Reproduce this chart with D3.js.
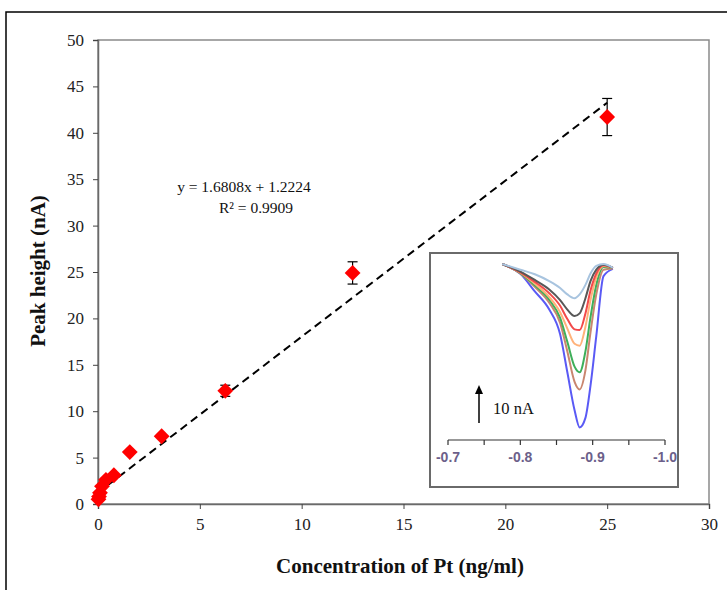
<!DOCTYPE html>
<html><head><meta charset="utf-8">
<script src="https://cdn.jsdelivr.net/npm/d3@7"></script>
<style>html,body{margin:0;padding:0;background:#fff;}svg{display:block;}</style>
</head><body>
<script>
// ---- main calibration data ----
const concentration = [0.024, 0.049, 0.098, 0.195, 0.39, 0.78, 1.56, 3.125, 6.25, 12.5, 25];
const peakHeight    = [0.5,   0.8,   1.2,   1.9,   2.6,  3.1,  5.6,  7.3,   12.2, 24.9, 41.7];
const errorBar      = [0,     0,     0,     0,     0,    0,    0,    0,     0.6,  1.2,  2.0];
const xTicks = [0, 5, 10, 15, 20, 25, 30];
const yTicks = [0, 5, 10, 15, 20, 25, 30, 35, 40, 45, 50];
const slope = 1.6808, intercept = 1.2224, fitRange = [0, 25];
const eqText = "y = 1.6808x + 1.2224";
const r2Text = "R\u00b2 = 0.9909";

// ---- inset voltammograms ----
const potential = [-0.775, -0.80, -0.82, -0.84, -0.855, -0.865, -0.875, -0.882, -0.89, -0.897, -0.905, -0.915, -0.928];
const curveBlue      = [0, -2.6, -7.2, -12, -18.5, -28.5, -38.5, -43, -40.5, -32, -19, -3.2, -1.3];
const curveBrown     = [0, -2.5, -6, -10.2, -15.5, -23, -31, -33, -28, -18, -8, -1.5, -1.2];
const curveGreen     = [0, -2.4, -5.6, -9.4, -14.2, -20.5, -27, -28.5, -23, -14, -5.5, -0.8, -1];
const curveOrange    = [0, -2.3, -5.2, -8.7, -12.7, -17, -21, -21.5, -16.5, -9.5, -3.5, -0.5, -1];
const curveRed       = [0, -2.2, -4.7, -7.7, -11, -14.5, -17.2, -17.4, -13, -7, -2.5, -0.3, -1];
const curveGray      = [0, -2, -4.2, -6.7, -9.5, -12, -13.7, -13, -9, -4.5, -1.5, -0.2, -1];
const curveLightBlue = [0, -1.5, -2.7, -4.5, -6.3, -8, -9, -8, -5.5, -2.5, -0.5, 0, -1];
const insetTicks = [-0.7, -0.75, -0.8, -0.85, -0.9, -0.95, -1.0];
const insetLabels = [-0.7, -0.8, -0.9, -1.0];
const scaleBarNA = 10;

const W = 727, H = 590;
const svg = d3.select("body").append("svg").attr("width", W).attr("height", H);
const serif = "'Liberation Serif','Times New Roman',serif";

// outer frame
svg.append("path").attr("d", `M6,${H+5} L6,12 L${W+5},12`).attr("fill","none").attr("stroke","#000").attr("stroke-width",1.5);

const L = 98, R = 709, T = 40, B = 504;
const x = d3.scaleLinear().domain([0, 30]).range([L, R]);
const y = d3.scaleLinear().domain([0, 50]).range([B, T]);

// plot box
svg.append("rect").attr("x", L).attr("y", T).attr("width", R-L).attr("height", B-T)
  .attr("fill","none").attr("stroke","#8a8a8a").attr("stroke-width",1.5);

// axes
const yAxis = d3.axisLeft(y).tickValues(yTicks).tickSize(5).tickPadding(9);
const gy = svg.append("g").attr("transform", `translate(${L},0)`).call(yAxis);
const xAxis = d3.axisBottom(x).tickValues(xTicks).tickSize(5).tickPadding(9);
const gx = svg.append("g").attr("transform", `translate(0,${B})`).call(xAxis);
[gx, gy].forEach(g => {
  g.select(".domain").attr("stroke","#6a6a6a").attr("stroke-width",1.5);
  g.selectAll(".tick line").attr("stroke","#444");
  g.selectAll("text").attr("font-family", serif).attr("font-size", 17).attr("fill","#222");
});

// trend line
svg.append("line")
  .attr("x1", x(fitRange[0])).attr("y1", y(intercept + slope*fitRange[0]))
  .attr("x2", x(fitRange[1])).attr("y2", y(intercept + slope*fitRange[1]))
  .attr("stroke","#000").attr("stroke-width",2).attr("stroke-dasharray","8,5");

// error bars
const pts = concentration.map((c,i)=>({c, v: peakHeight[i], e: errorBar[i]}));
const eb = svg.append("g").selectAll("g").data(pts.filter(d=>d.e>0)).join("g");
eb.append("line").attr("x1",d=>x(d.c)).attr("x2",d=>x(d.c)).attr("y1",d=>y(d.v-d.e)).attr("y2",d=>y(d.v+d.e)).attr("stroke","#000").attr("stroke-width",1.2);
eb.append("line").attr("x1",d=>x(d.c)-5).attr("x2",d=>x(d.c)+5).attr("y1",d=>y(d.v-d.e)).attr("y2",d=>y(d.v-d.e)).attr("stroke","#000").attr("stroke-width",1.2);
eb.append("line").attr("x1",d=>x(d.c)-5).attr("x2",d=>x(d.c)+5).attr("y1",d=>y(d.v+d.e)).attr("y2",d=>y(d.v+d.e)).attr("stroke","#000").attr("stroke-width",1.2);

// diamonds
const diamond = d3.symbol().type(d3.symbolSquare).size(125);
svg.append("g").selectAll("path").data(pts).join("path")
  .attr("d", diamond).attr("fill","#ff0000")
  .attr("transform", d=>`translate(${x(d.c)},${y(d.v)}) rotate(45)`);

// equation
svg.append("text").attr("x",244).attr("y",192).attr("text-anchor","middle")
  .attr("font-family",serif).attr("font-size",15.5).attr("fill","#111").text(eqText);
svg.append("text").attr("x",256).attr("y",213).attr("text-anchor","middle")
  .attr("font-family",serif).attr("font-size",15.5).attr("fill","#111").text(r2Text);

// axis titles
svg.append("text").attr("x",400).attr("y",573).attr("text-anchor","middle")
  .attr("font-family",serif).attr("font-size",21).attr("font-weight","bold").attr("fill","#111")
  .text("Concentration of Pt (ng/ml)");
svg.append("text").attr("transform","translate(45,271) rotate(-90)").attr("text-anchor","middle")
  .attr("font-family",serif).attr("font-size",21).attr("font-weight","bold").attr("fill","#111")
  .text("Peak height (nA)");

// ---- inset ----
svg.append("rect").attr("x",430).attr("y",253).attr("width",248).attr("height",234)
  .attr("fill","#fff").attr("stroke","#6a6a6a").attr("stroke-width",2);
const ix = d3.scaleLinear().domain([-0.7, -1.0]).range([448, 665]);
const iy = d3.scaleLinear().domain([0, -10]).range([264, 302]);

const curves = [
  {v: curveBlue, c: "#5a5af5"},
  {v: curveBrown, c: "#c9866f"},
  {v: curveGreen, c: "#3faf5a"},
  {v: curveOrange, c: "#ffb27a"},
  {v: curveRed, c: "#f24a4a"},
  {v: curveGray, c: "#585858"},
  {v: curveLightBlue, c: "#a8c4df"}
];
const line = d3.line().x((d,i)=>ix(potential[i])).y(d=>iy(d)).curve(d3.curveMonotoneX);
svg.append("g").selectAll("path").data(curves).join("path")
  .attr("d", d=>line(d.v)).attr("fill","none").attr("stroke", d=>d.c).attr("stroke-width",2);

// inset axis
const ia = svg.append("g").attr("transform","translate(0,440)");
ia.append("line").attr("x1",ix(-0.7)).attr("x2",ix(-1.0)).attr("stroke","#333").attr("stroke-width",1.2);
ia.selectAll("line.t").data(insetTicks).join("line").attr("class","t")
  .attr("x1",d=>ix(d)).attr("x2",d=>ix(d)).attr("y1",0).attr("y2",5).attr("stroke","#333").attr("stroke-width",1.2);
ia.selectAll("text").data(insetLabels).join("text")
  .attr("x",d=>ix(d)).attr("y",22).attr("text-anchor","middle")
  .attr("font-family","'Liberation Sans',Arial,sans-serif").attr("font-size",14).attr("font-weight","bold")
  .attr("fill","#6c5f8a").text(d=>d.toFixed(1));

// scale arrow
const arrowBottom = 423;
const arrowLen = iy(-scaleBarNA) - iy(0);
svg.append("line").attr("x1",479).attr("x2",479).attr("y1",arrowBottom).attr("y2",arrowBottom-arrowLen+6)
  .attr("stroke","#000").attr("stroke-width",1.5);
svg.append("path").attr("d",`M479,${arrowBottom-arrowLen} l-4,9 l8,0 z`).attr("fill","#000");
svg.append("text").attr("x",493).attr("y",414).attr("font-family",serif).attr("font-size",16.5).attr("fill","#111")
  .text(scaleBarNA + " nA");
</script>
</body></html>
